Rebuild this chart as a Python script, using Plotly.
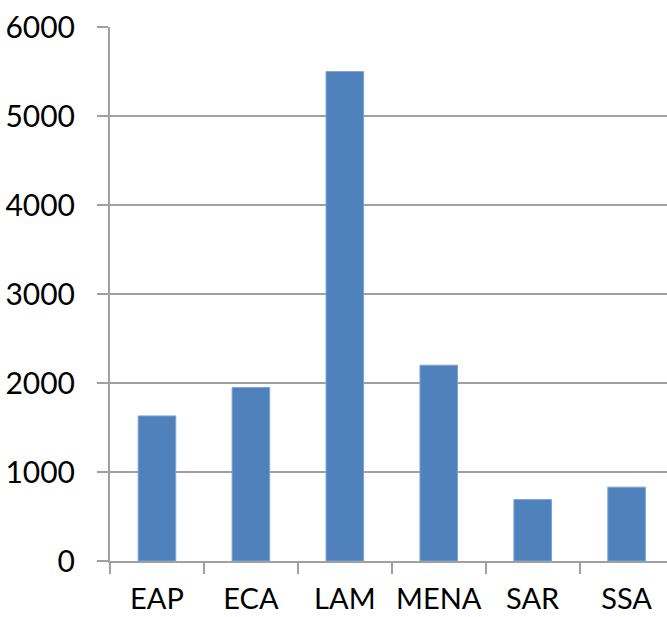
import plotly.graph_objects as go

# Regional values
regions = ["EAP", "ECA", "LAM", "MENA", "SAR", "SSA"]
values = [1630, 1950, 5500, 2200, 690, 830]
y_ticks = [0, 1000, 2000, 3000, 4000, 5000, 6000]

GRID = "#A0A0A0"
BAR = "#4F81BD"
FONT = dict(family="Lato, 'Open Sans', sans-serif", size=30, color="#000000")
XFONT = dict(family="Lato, 'Open Sans', sans-serif", size=29, color="#000000")

fig = go.Figure(
    go.Bar(
        x=regions,
        y=values,
        marker=dict(color=BAR, line=dict(color="#7FA3D3", width=1)),
        width=0.4,
    )
)

fig.update_layout(
    width=667,
    height=617,
    margin=dict(l=110, r=0, t=27, b=56, autoexpand=False),
    paper_bgcolor="white",
    plot_bgcolor="white",
    font=FONT,
    showlegend=False,
    bargap=0.6,
)

fig.update_xaxes(
    type="category",
    range=[-0.5, 5.43],
    automargin=False,
    tickangle=0,
    showgrid=False,
    showline=True,
    linecolor=GRID,
    linewidth=2,
    ticks="outside",
    tickson="boundaries",
    ticklen=11,
    tickwidth=2,
    tickcolor=GRID,
    ticklabelstandoff=11,
    tickfont=XFONT,
)

fig.update_yaxes(
    range=[0, 6000],
    automargin=False,
    tickvals=y_ticks,
    ticktext=[str(v) for v in y_ticks],
    showgrid=True,
    gridcolor=GRID,
    gridwidth=2,
    showline=True,
    linecolor=GRID,
    linewidth=2,
    ticks="outside",
    ticklen=11,
    tickwidth=2,
    tickcolor=GRID,
    ticklabelstandoff=16,
    zeroline=False,
    tickfont=FONT,
)

fig.write_html("out.html")
